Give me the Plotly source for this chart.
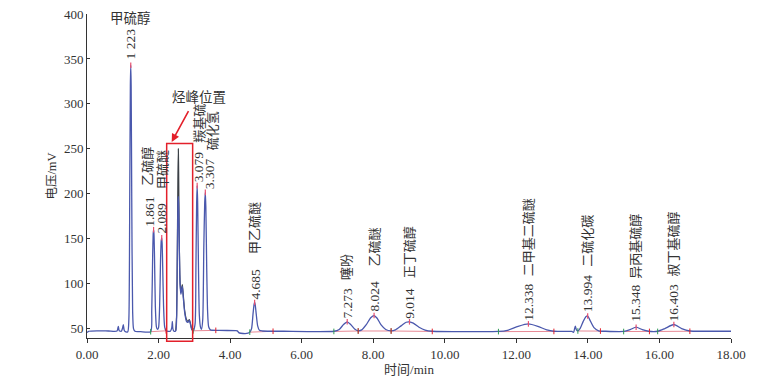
import plotly.graph_objects as go

# ---------------- data ----------------
time_min = [0.00, 0.05, 0.30, 0.60, 0.84, 0.875, 0.90, 0.96, 0.99, 1.015, 1.04, 1.07, 1.14,
            1.17, 1.195, 1.212, 1.223, 1.234, 1.25, 1.275, 1.30, 1.34, 1.50, 1.78,
            1.81, 1.835, 1.85, 1.861, 1.872, 1.887, 1.91, 1.94, 1.97, 2.00,
            2.03, 2.055, 2.075, 2.089, 2.10, 2.115, 2.14, 2.17, 2.21, 2.33,
            2.37, 2.385, 2.40, 2.43, 2.48, 2.505, 2.525, 2.543, 2.553, 2.563,
            2.58, 2.60, 2.625, 2.645, 2.665, 2.69, 2.73, 2.78, 2.82, 2.86,
            2.89, 2.93, 2.97, 3.02, 3.045, 3.065, 3.079, 3.093, 3.115, 3.14,
            3.17, 3.20, 3.235, 3.265, 3.29, 3.307, 3.322, 3.345, 3.37, 3.40,
            3.45, 3.70, 4.15, 4.20, 4.24, 4.30, 4.50, 4.55, 4.60, 4.64,
            4.67, 4.685, 4.70, 4.73, 4.77, 4.82, 4.90, 5.50, 6.90, 7.05,
            7.17, 7.273, 7.37, 7.48, 7.58, 7.68, 7.80, 7.93, 8.024, 8.11,
            8.22, 8.35, 8.50, 8.62, 8.78, 8.92, 9.014, 9.12, 9.28, 9.45,
            9.65, 11.50, 11.75, 12.05, 12.338, 12.60, 12.85, 13.05, 13.55, 13.60,
            13.63, 13.65, 13.68, 13.72, 13.78, 13.87, 13.95, 13.994, 14.05, 14.17,
            14.30, 14.50, 15.00, 15.18, 15.348, 15.52, 15.70, 15.95, 16.15, 16.403,
            16.62, 16.85, 17.20, 18.00]
signal_mv = [45.5, 47.0, 47.5, 47.3, 47.2, 52.5, 47.5, 47.0, 50.0, 54.4, 48.0, 46.5, 46.5,
             60.0, 200.0, 320.0, 343.0, 320.0, 200.0, 70.0, 50.0, 47.0, 46.5, 46.5,
             70.0, 130.0, 155.0, 160.0, 155.0, 130.0, 75.0, 52.0, 49.0, 51.0,
             75.0, 125.0, 148.0, 151.0, 145.0, 120.0, 75.0, 52.0, 47.5, 47.0,
             51.0, 58.0, 50.0, 47.0, 47.5, 62.0, 130.0, 190.0, 197.0, 185.0,
             140.0, 100.0, 88.0, 93.0, 97.0, 85.0, 68.0, 58.0, 57.0, 59.0,
             55.0, 49.0, 47.5, 55.0, 120.0, 190.0, 209.0, 190.0, 120.0, 65.0,
             52.0, 49.0, 60.0, 140.0, 190.0, 201.5, 185.0, 120.0, 70.0, 52.0,
             48.5, 48.0, 47.7, 47.5, 45.5, 44.8, 44.8, 46.0, 50.0, 66.0,
             77.0, 79.0, 77.0, 66.0, 53.0, 48.0, 47.3, 47.0, 47.0, 49.0,
             54.5, 57.5, 54.5, 49.5, 47.5, 48.5, 54.0, 62.0, 64.5, 61.5,
             54.0, 49.0, 47.5, 48.5, 53.0, 57.0, 57.5, 56.0, 51.5, 48.3,
             47.0, 46.8, 48.0, 52.5, 55.2, 52.5, 48.5, 47.0, 46.8, 45.8,
             50.0, 52.6, 48.5, 47.5, 50.0, 58.0, 63.5, 64.0, 60.0, 51.0,
             47.5, 47.0, 46.8, 48.8, 51.5, 48.8, 47.0, 47.0, 50.0, 54.5,
             50.0, 47.3, 47.0, 47.0]

# second (overlaid) chromatogram, visible only in the hydrocarbon region
overlay_time = [2.48, 2.505, 2.525, 2.54, 2.553, 2.562, 2.575, 2.595, 2.62, 2.645,
                2.665, 2.69, 2.73, 2.78, 2.82, 2.86, 2.89, 2.93, 2.97]
overlay_mv = [47.5, 65.0, 140.0, 215.0, 250.0, 225.0, 160.0, 110.0, 90.0, 95.0,
              99.0, 88.0, 70.0, 60.0, 58.0, 60.0, 56.0, 49.0, 47.5]

peak_rt = [1.223, 1.861, 2.089, 3.079, 3.307, 4.685, 7.273, 8.024, 9.014,
           12.338, 13.994, 15.348, 16.403]
peak_height = [343.0, 160.0, 151.0, 209.0, 201.5, 79.0, 57.5, 64.5, 57.5,
               55.2, 64.0, 51.5, 54.5]
peak_rt_text = ["1 223", "1.861", "2.089", "3.079", "3.307", "4.685", "7.273", "8.024",
                "9.014", "12.338", "13.994", "15.348", "16.403"]
compound_names = ["甲硫醇", "乙硫醇", "甲硫醚", "羰基硫", "硫化氢", "甲乙硫醚", "噻吩", "乙硫醚",
                  "正丁硫醇", "二甲基二硫醚", "二硫化碳", "异丙基硫醇", "叔丁基硫醇"]

# integration baselines (start/end time, start/end level)
base_t0 = [1.78, 2.97, 4.55, 6.90, 7.58, 8.50, 11.50, 13.72, 15.00, 15.95]
base_t1 = [2.21, 3.60, 5.20, 7.58, 8.50, 9.65, 13.05, 14.35, 15.72, 16.85]
base_v0 = [46.5, 47.5, 46.0, 46.8, 47.3, 47.3, 46.6, 47.3, 46.7, 46.8]
base_v1 = [47.5, 48.0, 47.0, 47.3, 47.3, 46.8, 46.8, 47.2, 46.8, 47.0]

hydrocarbon_window = [2.227, 2.953]
hydrocarbon_label = "烃峰位置"
x_title = "时间/min"
y_title = "电压/mV"

# ---------------- styling ----------------
SERIF = "Liberation Serif, Noto Sans CJK SC, serif"
TXT = "#333333"
BLUE = "#4a58ad"
RED = "#e3202b"
X_MAX = 18.0
Y_MIN, Y_MAX = 39.5, 400.0

fig = go.Figure()

# integration baselines
bx, by = [], []
for a, b, c, d in zip(base_t0, base_t1, base_v0, base_v1):
    bx += [a, b, None]
    by += [c, d, None]
fig.add_trace(go.Scatter(x=bx, y=by, mode="lines",
                         line=dict(color="#e88a96", width=1), hoverinfo="skip"))

fig.add_trace(go.Scatter(x=overlay_time, y=overlay_mv, mode="lines",
                         line=dict(color="#3b4046", width=1.2, shape="spline", smoothing=0.6),
                         hoverinfo="skip"))
fig.add_trace(go.Scatter(x=time_min, y=signal_mv, mode="lines",
                         line=dict(color=BLUE, width=1.3, shape="spline", smoothing=0.6)))

# markers at integration start/end and apex
fig.add_trace(go.Scatter(x=base_t0, y=base_v0, mode="markers",
                         marker=dict(symbol="line-ns", size=4, color="#2f9a55",
                                     line=dict(width=1, color="#2f9a55"))))
fig.add_trace(go.Scatter(x=base_t1, y=base_v1, mode="markers",
                         marker=dict(symbol="line-ns", size=4, color=RED,
                                     line=dict(width=1, color=RED))))
fig.add_trace(go.Scatter(x=peak_rt, y=peak_height, mode="markers",
                         marker=dict(symbol="line-ns", size=4, color="#e8506e",
                                     line=dict(width=1.2, color="#e8506e"))))

# label offsets in pixels (layout only)
num_yshift = [5, 2, 3, 2, 2, 2, 2, 2.5, 2, 2, 3, 4, 2.5]
num_xshift = [0, -3.5, -0.5, 1, 5, 0, 0, 0, 0, 0, 0, 0, 0]
name_yshift = [None, 42.5, 47.6, 42, 41, 47, 41, 47.5, 42, 47, 48, 47, 47.5]
name_xshift = [0, -5.5, 0.5, 1.5, 8, 0, 0, 0, 0, 0, 0, 0, 0]

annotations = []
for i, (rt, h, txt, nm) in enumerate(zip(peak_rt, peak_height, peak_rt_text, compound_names)):
    annotations.append(dict(x=rt, y=h, text=txt, textangle=-90, showarrow=False,
                            xanchor="center", yanchor="bottom",
                            yshift=num_yshift[i], xshift=num_xshift[i],
                            borderpad=0, font=dict(family=SERIF, size=13.5, color=TXT)))
    if i == 0:
        annotations.append(dict(x=rt, y=395, text=nm, showarrow=False,
                                xanchor="center", yanchor="middle",
                                font=dict(family=SERIF, size=13.5, color=TXT)))
    else:
        annotations.append(dict(x=rt, y=h, text=nm, textangle=-90, showarrow=False,
                                xanchor="center", yanchor="bottom",
                                yshift=name_yshift[i], xshift=name_xshift[i],
                                borderpad=0, font=dict(family=SERIF, size=13, color=TXT)))

annotations.append(dict(x=3.144, y=307, text=hydrocarbon_label, showarrow=False,
                        xanchor="center", yanchor="middle",
                        font=dict(family=SERIF, size=13.5, color=TXT)))
annotations.append(dict(x=2.367, y=257.6, text="", showarrow=True, ax=17.6, ay=-32.4,
                        arrowhead=2, arrowsize=1, arrowwidth=1.6, arrowcolor=RED))

fig.update_layout(
    width=770, height=385,
    margin=dict(l=87, r=39, t=14, b=47),
    paper_bgcolor="white", plot_bgcolor="white",
    showlegend=False,
    annotations=annotations,
    shapes=[dict(type="rect", xref="paper", yref="paper",
                 x0=hydrocarbon_window[0] / X_MAX, x1=hydrocarbon_window[1] / X_MAX,
                 y0=-0.01, y1=(255.8 - Y_MIN) / (Y_MAX - Y_MIN),
                 line=dict(color=RED, width=1.5))],
    font=dict(family=SERIF, size=13, color=TXT),
)
fig.update_xaxes(range=[0, X_MAX], dtick=2, tick0=0, tickformat=".2f",
                 ticks="outside", ticklen=4, tickcolor="#333", showline=True,
                 linecolor="#333", linewidth=1, showgrid=False, zeroline=False,
                 automargin=False,
                 tickfont=dict(family=SERIF, size=13, color=TXT),
                 title=dict(text=x_title, standoff=2, font=dict(family=SERIF, size=13, color=TXT)))
fig.update_yaxes(range=[Y_MIN, Y_MAX], dtick=50, tick0=50,
                 ticks="inside", ticklen=3, tickcolor="#333", showline=True,
                 linecolor="#333", linewidth=1, showgrid=False, zeroline=False,
                 automargin=False,
                 tickfont=dict(family=SERIF, size=13, color=TXT),
                 title=dict(text=y_title, standoff=4, font=dict(family=SERIF, size=12.5, color=TXT)))

fig.write_html("out.html", config={"displayModeBar": False},
               post_script="document.body.style.margin='0';")
